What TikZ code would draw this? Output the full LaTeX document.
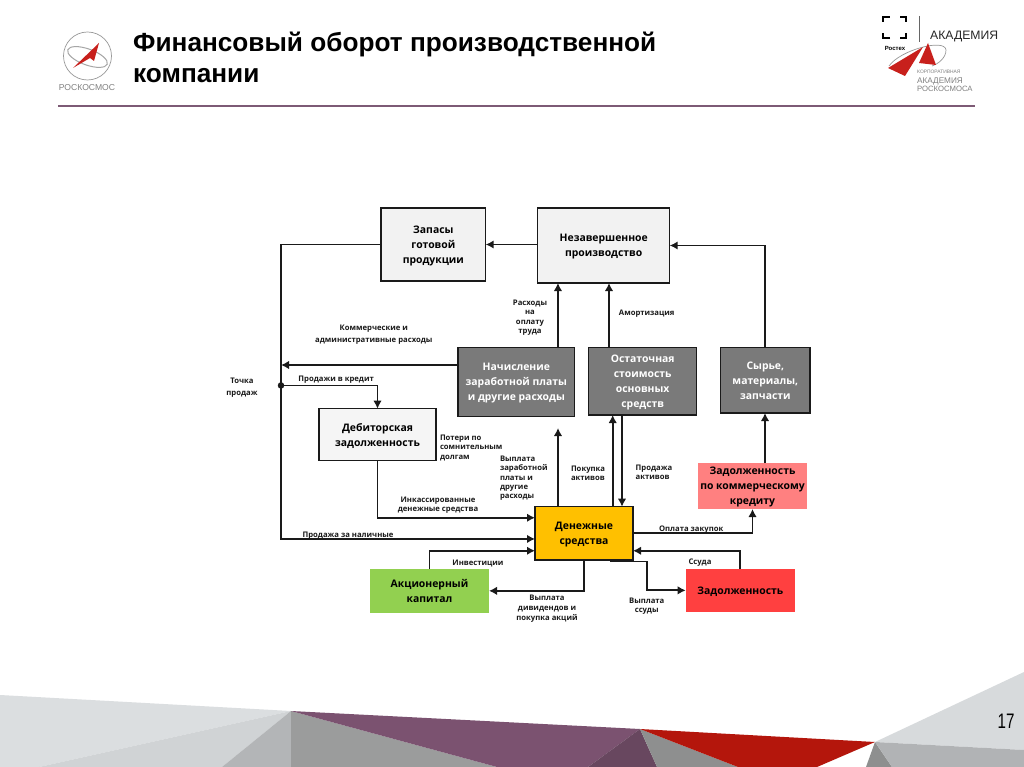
\documentclass[tikz,border=0pt]{standalone}
\usepackage{fontspec}
\setmainfont{Liberation Sans}
\setsansfont{Open Sans}
\newfontfamily\titlefont{Liberation Sans}
\usetikzlibrary{positioning, calc, arrows.meta}

\definecolor{boxlight}{HTML}{F2F2F2}
\definecolor{boxdark}{HTML}{7A7A7A}
\definecolor{boxyellow}{HTML}{FFC000}
\definecolor{boxgreen}{HTML}{92D050}
\definecolor{boxred}{HTML}{FF4040}
\definecolor{boxpink}{HTML}{FF8080}
\definecolor{rulepurple}{HTML}{7D5A75}
\definecolor{inkdark}{HTML}{1A1A1A}
\definecolor{logored}{HTML}{C8201C}

\begin{document}
\begin{tikzpicture}[
    x=1pt, y=-1pt,
    % Node styles
    block/.style={
        draw=inkdark, line width=1.1pt, inner sep=0pt, outer sep=0pt,
        align=center, text=black, text depth=0pt,
        font=\sffamily\bfseries\fontsize{10.4}{15}\selectfont
    },
    lightbox/.style={block, fill=boxlight},
    darkbox/.style={block, fill=boxdark, text=white},
    flatbox/.style={block, draw=none},
    lbl/.style={
        inner sep=0pt, outer sep=0pt, align=center, text=inkdark,
        font=\sffamily\bfseries\fontsize{7.7}{9.4}\selectfont
    },
    lblleft/.style={lbl, align=left},
    lblwide/.style={lbl, font=\sffamily\bfseries\fontsize{7.7}{12}\selectfont},
    % Edge style
    edge/.style={draw=inkdark, line width=1.8pt},
    % Arrow style
    arrow/.style={edge, -{Latex[length=8pt, width=8.5pt]}},
    % Junction dot
    junction/.style={circle, fill=inkdark, inner sep=0pt, minimum size=6.5pt},
]
\useasboundingbox (0,0) rectangle (1024,767);

% ===== FOOTER =====
\fill[fill=white] (0,0) rectangle (1024,767);
\fill[color={rgb,255:red,219;green,222;blue,224}] (0,695) -- (291,711) -- (39,767) -- (0,767) -- cycle;
\fill[color={rgb,255:red,208;green,211;blue,213}] (291,711) -- (222,767) -- (39,767) -- cycle;
\fill[color={rgb,255:red,179;green,181;blue,183}] (291,711) -- (291,767) -- (222,767) -- cycle;
\fill[color={rgb,255:red,155;green,156;blue,156}] (291,711) -- (497,767) -- (291,767) -- cycle;
\fill[color={rgb,255:red,123;green,82;blue,112}] (291,711) -- (640,729) -- (588,767) -- (497,767) -- cycle;
\fill[color={rgb,255:red,104;green,71;blue,95}] (640,729) -- (657,767) -- (588,767) -- cycle;
\fill[color={rgb,255:red,142;green,143;blue,143}] (640,729) -- (738,767) -- (657,767) -- cycle;
\fill[color={rgb,255:red,180;green,22;blue,12}] (640,729) -- (875,742) -- (817,767) -- (738,767) -- cycle;
\fill[color={rgb,255:red,142;green,143;blue,143}] (875,742) -- (892,767) -- (866,767) -- cycle;
\fill[color={rgb,255:red,215;green,218;blue,220}] (875,742) -- (1024,672) -- (1024,750) -- cycle;
\fill[color={rgb,255:red,177;green,179;blue,181}] (875,742) -- (1024,750) -- (1024,767) -- (892,767) -- cycle;
\node[font=\fontsize{21}{21}\selectfont, xscale=0.72, text=black] (page-num) at (1006,721) {17};

% ===== HEADER =====
\node[anchor=base west, inner sep=0pt, align=left, font=\titlefont\bfseries\fontsize{26.2}{31}\selectfont] (title) at (133,83)
    {Финансовый оборот производственной\\компании};
\draw[color=rulepurple, line width=2.6pt] (58,106) -- (975,106);

% Left logo
\draw[color=black!40, line width=0.7pt] (87.5,56) circle[radius=24pt];
\draw[color=black!35, line width=1pt] (87.5,57) ellipse[x radius=21pt, y radius=8pt, rotate=-20];
\fill[color=logored] (99,43) -- (73,68) -- (90,58) -- (94,61) -- cycle;
\node[text=black!50, inner sep=0pt, font=\fontsize{8.6}{9}\selectfont] (logo-left) at (87,88) {РОСКОСМОС};

% Right logo
\draw[color=black, line width=2.6pt]
    (883,22) -- (883,17) -- (890,17) (900,17) -- (906,17) -- (906,22)
    (906,33) -- (906,38) -- (900,38) (890,38) -- (883,38) -- (883,33);
\node[inner sep=0pt, font=\bfseries\fontsize{6}{6}\selectfont] (logo-rostec) at (895,48) {Ростех};
\draw[color=black!60, line width=0.6pt] (919,16) -- (919,42);
\draw[color=black!40, line width=0.7pt] (889,66) .. controls (900,50) and (945,38) .. (946,50) .. controls (946,58) and (938,64) .. (932,66);
\fill[color=logored] (923,47) -- (888,68) -- (905,76) -- cycle;
\fill[color=logored] (928,43) -- (919,63) -- (936,65) -- cycle;
\node[anchor=west, inner sep=0pt, text=black!85, font=\fontsize{12.2}{12}\selectfont] (logo-acad) at (930,37) {АКАДЕМИЯ};
\node[anchor=west, inner sep=0pt, text=black!50, font=\fontsize{4.9}{5}\selectfont] (logo-sub-a) at (917,72) {КОРПОРАТИВНАЯ};
\node[anchor=west, inner sep=0pt, text=black!50, font=\fontsize{8.2}{8}\selectfont] (logo-sub-b) at (917,81) {АКАДЕМИЯ};
\node[anchor=west, inner sep=0pt, text=black!50, font=\fontsize{7.7}{8}\selectfont] (logo-sub-c) at (917,89) {РОСКОСМОСА};

% ===== BLOCKS =====

% Root
\node[lightbox, minimum width=132pt, minimum height=75pt] (wip) at (603.7,245.5) {Незавершенное\\производство};

% Upper row
\node[lightbox, minimum width=104.7pt, minimum height=73pt, below left=0pt and 52pt of wip.north west] (stock) {Запасы\\готовой\\продукции};

% Middle row
\node[darkbox, minimum width=108pt, minimum height=67.3pt, below right=64.7pt and 51pt of wip.south west] (fixed) {Остаточная\\стоимость\\основных\\средств};
\node[darkbox, minimum width=116.7pt, minimum height=69pt, text depth=-4pt, below left=0pt and 14pt of fixed.north west] (payroll) {Начисление\\заработной платы\\и другие расходы};
\node[darkbox, minimum width=89.3pt, minimum height=65.3pt, below right=0pt and 24pt of fixed.north east] (raw) {Сырье,\\материалы,\\запчасти};

% Receivables and cash
\node[block, fill=white!96!black, minimum width=117pt, minimum height=52pt, below left=61pt and 22pt of payroll.north west] (recv) {Дебиторская\\задолженность};
\node[block, fill=boxyellow, minimum width=98pt, minimum height=53.3pt, below right=46pt and 99pt of recv.south east] (cash) {Денежные\\средства};

% Liabilities and equity
\node[flatbox, fill=boxpink, minimum width=109pt, minimum height=46pt, below left=50pt and 3pt of raw.south east] (trade) {Задолженность\\по коммерческому\\кредиту};
\node[flatbox, fill=boxred, minimum width=109.3pt, minimum height=42.7pt, below right=9pt and 52.7pt of cash.south east] (debt) {Задолженность};
\node[flatbox, fill=boxgreen, minimum width=119pt, minimum height=43.7pt, below left=9pt and 46pt of cash.south west] (equity) {Акционерный\\капитал};

% ===== CONNECTORS =====

% Trunk on the left
\coordinate[left=100pt of stock.west] (trunk);
\node[junction, below=137.5pt of trunk] (point) {};
\draw[arrow] (wip.west |- stock.east) -- (stock.east);
\draw[arrow] (stock.west) -- (trunk) |- ([yshift=-5.6pt]cash.west);
\draw[arrow] ([yshift=17.2pt]payroll.west) -- ([yshift=17.2pt]payroll.west -| trunk);
\draw[arrow] (point) -| (recv.north);
\draw[arrow] (recv.south) |- ([yshift=15.6pt]cash.west);

% Up to work in progress
\draw[arrow] ([xshift=41.6pt]payroll.north) -- ([xshift=41.6pt]payroll.north |- wip.south);
\draw[arrow] ([xshift=-33.7pt]fixed.north) -- ([xshift=-33.7pt]fixed.north |- wip.south);
\draw[arrow] (raw.north) |- (wip.east);

% Cash going up
\coordinate[above=78.7pt of cash.north, xshift=-26pt] (pay-end);
\draw[arrow] ([xshift=-26pt]cash.north) -- (pay-end);
\draw[arrow] ([xshift=28.7pt]cash.north) -- ([xshift=28.7pt]cash.north |- fixed.south);
\draw[arrow] ([xshift=38pt]cash.north |- fixed.south) -- ([xshift=38pt]cash.north);

% Trade credit
\draw[arrow] ([xshift=12.5pt]trade.north) -- ([xshift=12.5pt]trade.north |- raw.south);
\draw[arrow] (cash.east) -| (trade.south);

% Loan
\draw[arrow] (debt.north) |- ([yshift=-17.4pt]cash.east);
\draw[arrow] ([xshift=26pt, yshift=-1.5pt]cash.south) -- ([xshift=14pt, yshift=-1.5pt]cash.south east) |- (debt.west);

% Equity
\draw[arrow] (equity.north) |- ([yshift=-17.4pt]cash.west);
\draw[arrow] (cash.south) |- (equity.east);

% ===== LABELS =====
\node[lbl, below=17pt of wip.south west, xshift=-7.7pt] (t-labour) {Расходы\\на\\оплату\\труда};
\node[lbl, below=27pt of wip.south, xshift=43pt] (t-amort) {Амортизация};
\node[lblwide, below=44pt of stock.south, xshift=-59.5pt] (t-admin) {Коммерческие и\\административные расходы};
\node[lblwide, left=20pt of point, yshift=-2pt] (t-point) {Точка\\продаж};
\node[lbl, above right=2pt and 14pt of point.east] (t-credit) {Продажи в кредит};
\node[lblleft, below right=26pt and 4pt of recv.north east] (t-loss) {Потери по\\сомнительным\\долгам};
\node[lblleft, below right=39pt and 42pt of payroll.south west] (t-wages) {Выплата\\заработной\\платы и\\другие\\расходы};
\node[lblleft, below right=49.3pt and -3.7pt of payroll.south east] (t-buy) {Покупка\\активов};
\node[lblleft, below right=49.5pt and 47pt of fixed.south west] (t-sell) {Продажа\\активов};
\node[lbl, below=36pt of recv.south, xshift=60.5pt] (t-collect) {Инкассированные\\денежные средства};
\node[lbl, below=71.7pt of recv.south, xshift=-29.5pt] (t-cashsale) {Продажа за наличные};
\node[lbl, above=1.5pt of equity.north, xshift=48.5pt] (t-invest) {Инвестиции};
\node[lbl, below=35pt of cash.south, xshift=-37pt, font=\sffamily\bfseries\fontsize{7.7}{10}\selectfont] (t-divid) {Выплата\\дивидендов и\\покупка акций};
\node[lbl, above right=0.3pt and 26pt of cash.east] (t-purchase) {Оплата закупок};
\node[lbl, above=2.5pt of debt.north west, xshift=14.3pt] (t-loan) {Ссуда};
\node[lbl, below=37.5pt of cash.south east, xshift=13.7pt] (t-repay) {Выплата\\ссуды};

\end{tikzpicture}
\end{document}
